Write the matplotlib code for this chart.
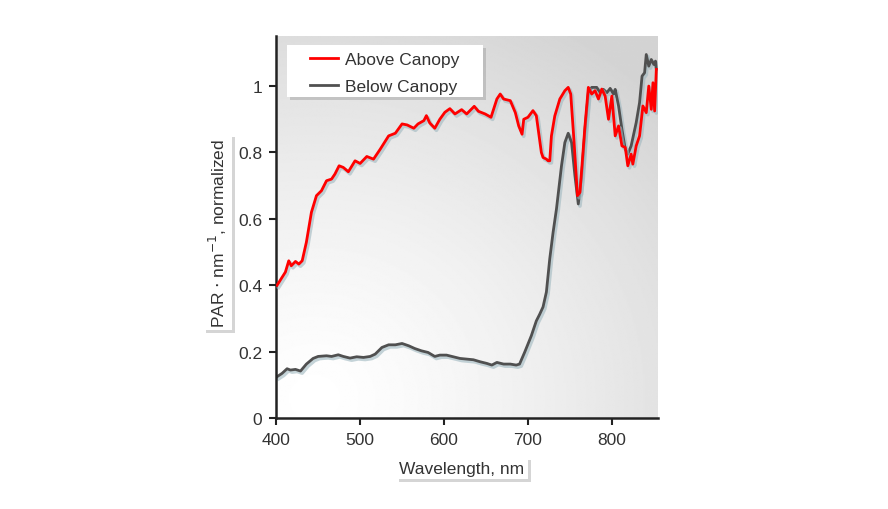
import numpy as np
import matplotlib.pyplot as plt
import matplotlib.patheffects as pe
from matplotlib.patches import Rectangle

# spectra, wavelength in nm
wl_above = [401, 406, 411, 415, 418, 423, 427, 431, 436, 442, 448, 454, 460, 466, 470,
            475, 480, 486, 494, 500, 508, 516, 524, 534, 542, 550, 556, 564, 569, 576,
            579, 583, 589, 595, 601, 607, 613, 621, 627, 636, 641, 649, 656, 663, 667,
            671, 679, 685, 689, 693, 695, 700, 706, 710, 716, 718, 722, 724, 726, 728,
            732, 738, 744, 748, 751, 755, 759, 762, 768, 772, 776, 780, 784, 788, 792,
            796, 800, 804, 808, 812, 816, 819, 823, 825, 829, 833, 837, 841, 844, 847,
            849, 851, 853]
par_above = [0.40, 0.42, 0.44, 0.474, 0.459, 0.472, 0.464, 0.474, 0.53, 0.62, 0.67, 0.685,
             0.715, 0.72, 0.735, 0.76, 0.755, 0.742, 0.775, 0.767, 0.788, 0.78, 0.81, 0.85,
             0.858, 0.886, 0.883, 0.873, 0.886, 0.896, 0.911, 0.889, 0.873, 0.90, 0.921,
             0.932, 0.916, 0.929, 0.916, 0.939, 0.924, 0.916, 0.906, 0.961, 0.976, 0.961,
             0.956, 0.92, 0.88, 0.855, 0.90, 0.906, 0.926, 0.911, 0.80, 0.785, 0.78, 0.775,
             0.775, 0.85, 0.91, 0.961, 0.986, 0.996, 0.976, 0.83, 0.67, 0.68, 0.88, 0.996,
             0.976, 0.986, 0.961, 0.991, 0.97, 0.90, 0.97, 0.85, 0.88, 0.82, 0.815, 0.76,
             0.795, 0.765, 0.82, 0.85, 0.94, 0.92, 1.0, 0.93, 1.01, 0.925, 1.05]

wl_below = [401, 407, 413, 417, 423, 429, 436, 444, 450, 460, 466, 474, 480, 488, 496,
            504, 512, 518, 526, 534, 542, 550, 558, 565, 573, 581, 589, 595, 603, 611,
            619, 627, 635, 643, 651, 657, 663, 671, 679, 686, 690, 696, 704, 710, 714,
            718, 722, 726, 730, 734, 740, 744, 748, 752, 756, 760, 764, 768, 772, 776,
            782, 786, 790, 794, 798, 802, 804, 808, 812, 816, 819, 823, 829, 833, 836,
            839, 841, 844, 847, 850, 852, 853]
par_below = [0.125, 0.135, 0.149, 0.145, 0.147, 0.142, 0.163, 0.18, 0.186, 0.188, 0.186,
             0.191, 0.186, 0.181, 0.185, 0.183, 0.186, 0.193, 0.213, 0.221, 0.221, 0.225,
             0.218, 0.21, 0.203, 0.198, 0.186, 0.19, 0.19, 0.185, 0.18, 0.178, 0.176, 0.17,
             0.165, 0.16, 0.168, 0.163, 0.163, 0.16, 0.163, 0.198, 0.248, 0.293, 0.313,
             0.335, 0.38, 0.48, 0.56, 0.63, 0.76, 0.83, 0.858, 0.83, 0.73, 0.645, 0.73,
             0.87, 0.98, 0.996, 0.996, 0.98, 0.99, 0.98, 0.993, 0.976, 0.99, 0.94, 0.87,
             0.81, 0.795, 0.82, 0.89, 0.95, 1.03, 1.04, 1.095, 1.06, 1.08, 1.065, 1.075, 1.05]

xticks = [400, 500, 600, 700, 800]
yticks = [0, 0.2, 0.4, 0.6, 0.8, 1]
ytick_labels = ['0', '0.2', '0.4', '0.6', '0.8', '1']

plt.rcParams['font.family'] = ['Liberation Sans', 'DejaVu Sans']
FS = 12.5

fig = plt.figure(figsize=(8.88, 5.10), dpi=100)
ax = fig.add_axes([0.311, 0.178, 0.430, 0.749])
ax.set_xlim(400, 855)
ax.set_ylim(0, 1.15)

# grey gradient background, lightest towards lower left
gx, gy = np.meshgrid(np.linspace(0, 1, 300), np.linspace(0, 1, 300))
d = np.sqrt(((gx - 0.1) * 1.0) ** 2 + ((gy - 0.05) * 1.1) ** 2)
shade = 1.0 - 0.17 * np.clip(d / 1.25, 0, 1) ** 1.3
ax.imshow(shade, cmap='gray', vmin=0, vmax=1, origin='lower', aspect='auto',
          extent=[400, 855, 0, 1.15], zorder=0)

shadow = [pe.SimpleLineShadow(offset=(1.2, -1.5), shadow_color='#9fb8c0', alpha=0.6, linewidth=2.6),
          pe.Normal()]
ax.plot(wl_above, par_above, color='#ff0000', lw=2.0, label='Above Canopy',
        path_effects=shadow, zorder=3)
ax.plot(wl_below, par_below, color='#505050', lw=2.0, label='Below Canopy',
        path_effects=shadow, zorder=2)

for s in ['top', 'right']:
    ax.spines[s].set_visible(False)
for s in ['left', 'bottom']:
    ax.spines[s].set_linewidth(1.8)
    ax.spines[s].set_color('#222222')
ax.set_xticks(xticks)
ax.set_yticks(yticks)
ax.set_yticklabels(ytick_labels)
ax.tick_params(direction='out', length=5, width=1.5, color='#222222',
               labelsize=FS, labelcolor='#333333', pad=5)

# legend box drawn by hand so its padding can differ from the text spacing
lbox = Rectangle((0.029, 0.840), 0.513, 0.136, transform=ax.transAxes, facecolor='white',
                 edgecolor='none', zorder=4,
                 path_effects=[pe.SimplePatchShadow(offset=(2, -2), shadow_rgbFace='#888888', alpha=0.35),
                               pe.Normal()])
ax.add_patch(lbox)
leg = ax.legend(loc='upper left', bbox_to_anchor=(0.089, 0.958), frameon=False,
                fontsize=FS, handlelength=1.6, borderpad=0, labelspacing=0.67,
                handletextpad=0.4, borderaxespad=0)
leg.set_zorder(5)
for h in leg.get_lines():
    h.set_path_effects([pe.Normal()])
for t in leg.get_texts():
    t.set_color('#333333')

box = dict(boxstyle='square,pad=0.2', facecolor='white', edgecolor='none')
xl = fig.text(0.52, 0.080, 'Wavelength, nm', ha='center', va='center', fontsize=FS,
              color='#333333', bbox=box)
yl = fig.text(0.245, 0.543, r'PAR $\cdot$ nm$^{-1}$, normalized', ha='center', va='center',
              rotation=90, fontsize=FS, color='#333333', bbox=box,
              math_fontfamily='dejavusans')
for t in (xl, yl):
    t.get_bbox_patch().set_path_effects([pe.SimplePatchShadow(offset=(2, -2), shadow_rgbFace='#888888', alpha=0.35),
                                         pe.Normal()])

fig.savefig('out.png', dpi=100, facecolor='white')
